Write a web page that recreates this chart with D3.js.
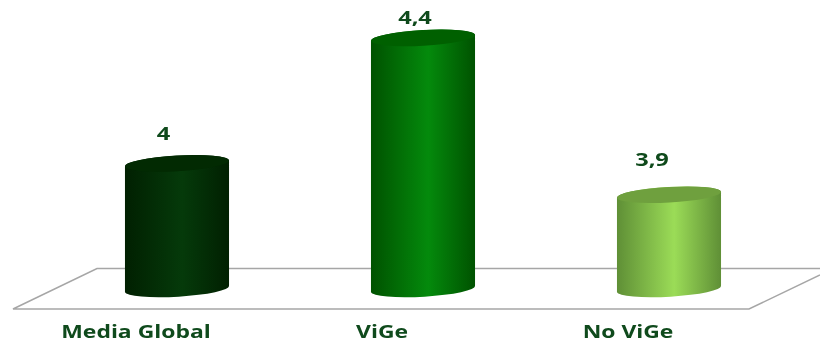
<!DOCTYPE html>
<html><head><meta charset="utf-8">
<script src="https://cdn.jsdelivr.net/npm/d3@7/dist/d3.min.js"></script>
<style>html,body{margin:0;padding:0;background:#fff}svg{display:block;filter:blur(.45px)}
text{font-family:"Open Sans",sans-serif;font-weight:700;fill:#0f4a1c}</style>
</head><body><svg id="c" width="820" height="343"></svg>
<script>
const categories=["Media Global","ViGe","No ViGe"];
const labels=["4","4,4","3,9"];
const values=[4,4.4,3.9];
const edgeColors=["#012001","#005200","#5f8f36"];
const midColors=["#053a0a","#048a0c","#9bdc57"];
const topColors=["#022a02","#006000","#6fa03e"];
const svg=d3.select("#c");
const x=d3.scaleBand().domain(categories).range([54,792]).paddingInner(.577).paddingOuter(.2885);
const y=d3.scaleLinear().domain([3.6,4.4]).range([292,41]);
const labelY=d3.scaleLinear().domain([3.9,4,4.4]).range([166,140,24]);
const labelShift=d3.scaleLinear().domain([3.9,4,4.4]).range([-17,-13.5,-8]);
const tilt=-3.2, ry=7.8, rise=3.1, stretch=1.31;
const defs=svg.append("defs");
categories.forEach((c,i)=>{
  const g=defs.append("linearGradient").attr("id","g"+i);
  g.append("stop").attr("offset","0").attr("stop-color",edgeColors[i]);
  g.append("stop").attr("offset",".55").attr("stop-color",midColors[i]);
  g.append("stop").attr("offset","1").attr("stop-color",edgeColors[i]);
});
const floor=d3.path();
floor.moveTo(820,268.5);floor.lineTo(97,268.5);floor.lineTo(13,309);floor.lineTo(749,309);floor.lineTo(820,275);
svg.append("path").attr("d",floor.toString()).attr("fill","none").attr("stroke","#a6a6a6").attr("stroke-width",1.5);
const bars=svg.selectAll("g.bar").data(categories).join("g").attr("class","bar");
bars.append("path").attr("fill",(d,i)=>`url(#g${i})`).attr("d",(d,i)=>{
  const l=x(d),r=l+x.bandwidth(),rx=x.bandwidth()/2,t=y(values[i]),b=y(3.6);
  return `M${l},${t}L${l},${b}A${rx},${ry} ${tilt} 0 0 ${r},${b-2*rise}L${r},${t-2*rise}A${rx},${ry} ${tilt} 0 0 ${l},${t}Z`;
});
bars.append("ellipse").attr("fill",(d,i)=>topColors[i])
 .attr("rx",x.bandwidth()/2).attr("ry",ry)
 .attr("transform",(d,i)=>`translate(${x(d)+x.bandwidth()/2},${y(values[i])-rise}) rotate(${tilt})`);
bars.append("text").attr("text-anchor","middle").attr("font-size",17.5)
 .attr("transform",(d,i)=>`translate(${x(d)+x.bandwidth()/2+labelShift(values[i])},${labelY(values[i])}) scale(${stretch*1.03},1)`)
 .text((d,i)=>labels[i]);
const axis=svg.append("g").attr("transform","translate(-41,338)")
 .call(d3.axisBottom(x).tickSize(0).tickPadding(0));
axis.select(".domain").remove();
axis.selectAll("text").attr("font-size",17.5).attr("y",0).attr("dy",0)
 .attr("transform",`scale(${stretch},1)`)
 .style("font-family",'"Open Sans",sans-serif').style("font-weight",700);
</script></body></html>
